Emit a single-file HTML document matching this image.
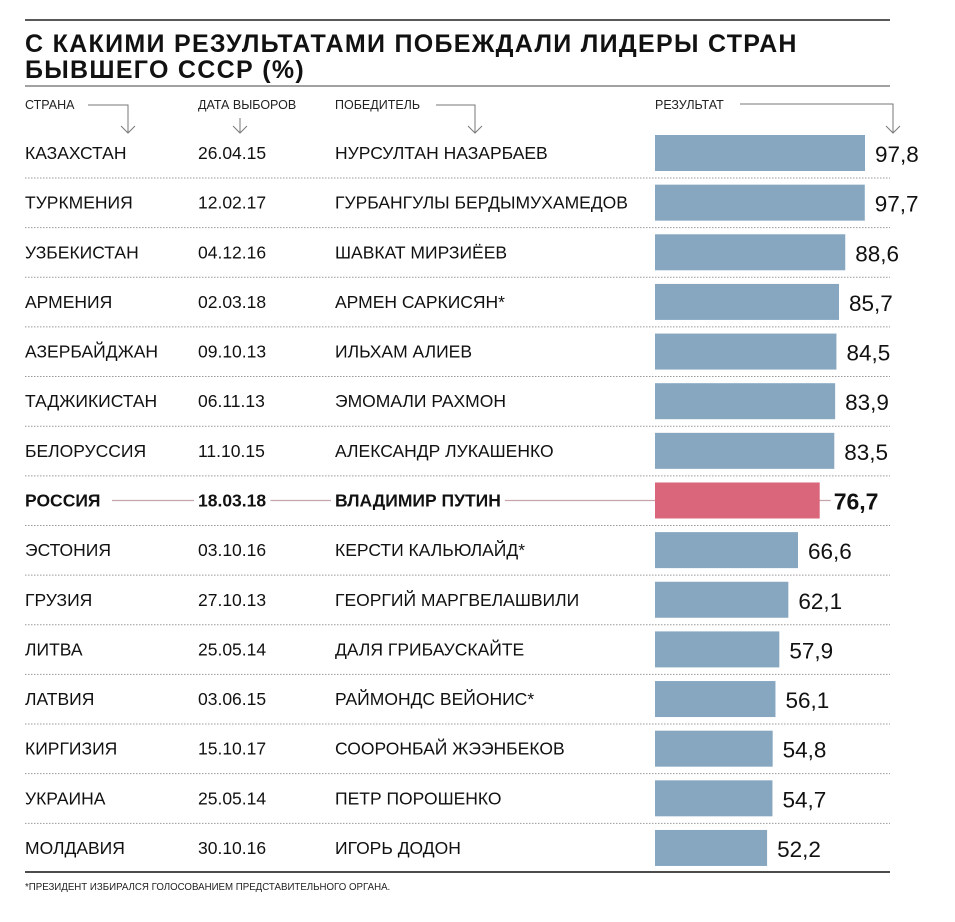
<!DOCTYPE html>
<html><head><meta charset="utf-8"><style>
body{margin:0;background:#fff;width:955px;height:917px;overflow:hidden;font-family:"Liberation Sans","DejaVu Sans",sans-serif;}
svg text{font-family:"Liberation Sans","DejaVu Sans",sans-serif;}
</style></head><body>
<svg id="chart" width="955" height="917" xmlns="http://www.w3.org/2000/svg">
<line x1="25" y1="20" x2="890" y2="20" stroke="#222" stroke-width="1.5"/>
<text x="25" y="52" font-size="25" font-weight="bold" letter-spacing="1.3" fill="#111">С КАКИМИ РЕЗУЛЬТАТАМИ ПОБЕЖДАЛИ ЛИДЕРЫ СТРАН</text>
<text x="25" y="78" font-size="25" font-weight="bold" letter-spacing="1.3" fill="#111">БЫВШЕГО СССР (%)</text>
<line x1="25" y1="86" x2="890" y2="86" stroke="#444" stroke-width="1"/>
<g font-size="12.5" fill="#222">
<text x="25" y="109">СТРАНА</text>
<text x="198" y="109">ДАТА ВЫБОРОВ</text>
<text x="335" y="109">ПОБЕДИТЕЛЬ</text>
<text x="655" y="109">РЕЗУЛЬТАТ</text>
</g>
<g stroke="#777" stroke-width="1" fill="none">
<path d="M88 105 H128 V133 M121 126 L128 133 L135 126"/>
<path d="M240 118 V133 M233 126 L240 133 L247 126"/>
<path d="M436 105 H475 V133 M468 126 L475 133 L482 126"/>
<path d="M740 104 H893 V133 M886 126 L893 133 L900 126"/>
</g>
<g id="rows"></g>
<line x1="25" y1="872" x2="890" y2="872" stroke="#111" stroke-width="1.5"/>
<text x="25" y="890" font-size="10" fill="#222" transform="translate(25 0) scale(0.97 1) translate(-25 0)">*ПРЕЗИДЕНТ ИЗБИРАЛСЯ ГОЛОСОВАНИЕМ ПРЕДСТАВИТЕЛЬНОГО ОРГАНА.</text>
</svg>
<script>
const countries=["КАЗАХСТАН","ТУРКМЕНИЯ","УЗБЕКИСТАН","АРМЕНИЯ","АЗЕРБАЙДЖАН","ТАДЖИКИСТАН","БЕЛОРУССИЯ","РОССИЯ","ЭСТОНИЯ","ГРУЗИЯ","ЛИТВА","ЛАТВИЯ","КИРГИЗИЯ","УКРАИНА","МОЛДАВИЯ"];
const dates=["26.04.15","12.02.17","04.12.16","02.03.18","09.10.13","06.11.13","11.10.15","18.03.18","03.10.16","27.10.13","25.05.14","03.06.15","15.10.17","25.05.14","30.10.16"];
const winners=["НУРСУЛТАН НАЗАРБАЕВ","ГУРБАНГУЛЫ БЕРДЫМУХАМЕДОВ","ШАВКАТ МИРЗИЁЕВ","АРМЕН САРКИСЯН*","ИЛЬХАМ АЛИЕВ","ЭМОМАЛИ РАХМОН","АЛЕКСАНДР ЛУКАШЕНКО","ВЛАДИМИР ПУТИН","КЕРСТИ КАЛЬЮЛАЙД*","ГЕОРГИЙ МАРГВЕЛАШВИЛИ","ДАЛЯ ГРИБАУСКАЙТЕ","РАЙМОНДС ВЕЙОНИС*","СООРОНБАЙ ЖЭЭНБЕКОВ","ПЕТР ПОРОШЕНКО","ИГОРЬ ДОДОН"];
const results=[97.8,97.7,88.6,85.7,84.5,83.9,83.5,76.7,66.6,62.1,57.9,56.1,54.8,54.7,52.2];
const labels=["97,8","97,7","88,6","85,7","84,5","83,9","83,5","76,7","66,6","62,1","57,9","56,1","54,8","54,7","52,2"];
const highlight="РОССИЯ";
const NS="http://www.w3.org/2000/svg";
const g=document.getElementById('rows');
const x=v=>655+v*(210/97.8);
const y=i=>153+i*49.64;
function mk(tag,attrs){const e=document.createElementNS(NS,tag);for(const k in attrs)e.setAttribute(k,attrs[k]);g.appendChild(e);return e;}
countries.forEach((c,i)=>{
  const cy=y(i), hl=c===highlight;
  if(i<countries.length-1){
    const sep=mk('line',{x1:25,x2:890,y1:cy+25,y2:cy+25,stroke:'#999','stroke-width':1,'stroke-dasharray':'1.5 1.5'});
    
    
  }
  if(hl){
    const ln=mk('line',{x1:112,x2:x(results[i])+12,y1:cy,y2:cy,stroke:'#c8a5ad','stroke-width':1.2});
    
    
  }
  const fw=hl?'bold':'normal';
  const bg=hl?'#fff':'none';
  const t1=mk('text',{x:25,y:cy+6,'font-size':17.5,'font-weight':fw,fill:'#111'});t1.textContent=c;
  
  
  if(hl){const b=t1.getBBox();const r=mk('rect',{x:b.x-3,y:b.y,width:b.width+6,height:b.height,fill:'#fff'});g.insertBefore(r,t1);}
  const t2=mk('text',{x:198,y:cy+6,'font-size':17.5,'font-weight':fw,fill:'#111'});t2.textContent=dates[i];
  
  
  if(hl){const b=t2.getBBox();const r=mk('rect',{x:b.x-4,y:b.y,width:b.width+8,height:b.height,fill:'#fff'});g.insertBefore(r,t2);}
  const t3=mk('text',{x:335,y:cy+6,'font-size':17.5,'font-weight':fw,fill:'#111'});t3.textContent=winners[i];
  
  
  if(hl){const b=t3.getBBox();const r=mk('rect',{x:b.x-4,y:b.y,width:b.width+8,height:b.height,fill:'#fff'});g.insertBefore(r,t3);}
  const bar=mk('rect',{x:655,y:cy-18,width:x(results[i])-655,height:36,fill:hl?'#d9667a':'#87a7c1'});
  
  
  const v=mk('text',{x:x(results[i])+(hl?14:10),y:cy+9,'font-size':hl?23:22.5,'font-weight':fw,fill:'#111'});v.textContent=labels[i];
  if(hl){const b=v.getBBox();const r=mk('rect',{x:b.x-3,y:b.y,width:b.width+6,height:b.height,fill:'#fff'});g.insertBefore(r,v);}
  
  
});
</script>
</body></html>
